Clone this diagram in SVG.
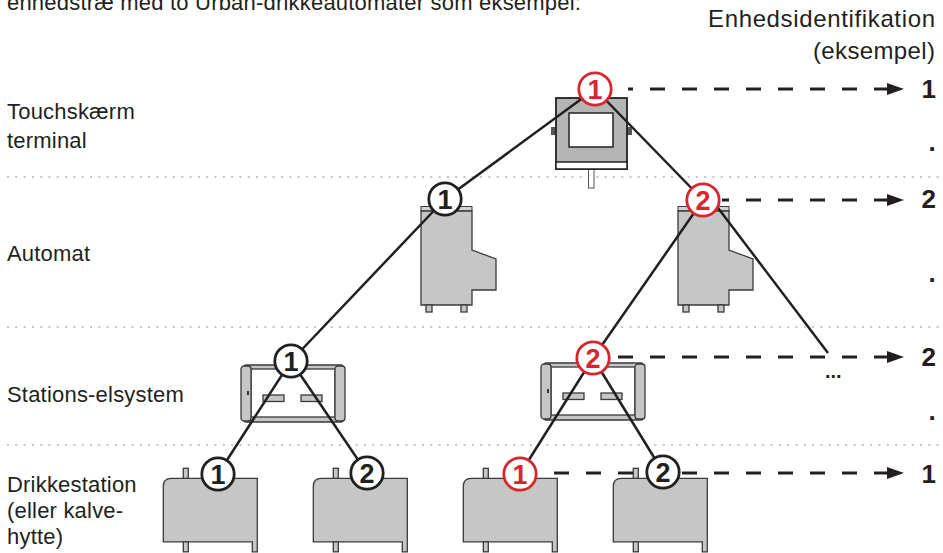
<svg xmlns="http://www.w3.org/2000/svg" width="943" height="553" viewBox="0 0 943 553">
<defs>
<style>
.lbl{font-family:"Liberation Sans",Arial,sans-serif;font-size:22px;fill:#231f20;letter-spacing:0.2px}
.rlbl{font-family:"Liberation Sans",Arial,sans-serif;font-size:24px;fill:#231f20}
.num{font-family:"Liberation Sans",Arial,sans-serif;font-size:26px;font-weight:bold;fill:#231f20}
.badge circle{fill:#fff;stroke:#231f20;stroke-width:2.8}
.badge text{font-family:"Liberation Sans",Arial,sans-serif;font-size:27px;font-weight:bold;fill:#231f20;text-anchor:middle}
.badge.red circle{stroke:#d7262e}
.badge.red text{fill:#d7262e}
.body{fill:#c6c6c6;stroke:#3a3a3a;stroke-width:1.3}
.sep{stroke:#c4c4c4;stroke-width:2;stroke-dasharray:2 6.3;fill:none}
.link{stroke:#231f20;stroke-width:2.5;fill:none}
.dash{stroke:#231f20;stroke-width:3;stroke-dasharray:15 17;fill:none}
</style>
<marker id="arr" markerUnits="userSpaceOnUse" viewBox="0 0 17 12" markerWidth="17" markerHeight="12" refX="2" refY="6" orient="auto-start-reverse">
<polygon points="0,0 17,6 0,12" fill="#231f20"/>
</marker>
<g id="automat-shape">
<rect x="0" y="0" width="51" height="4.5" fill="#d2d2d2" stroke="#3a3a3a" stroke-width="1"/>
<path class="body" d="M0,4.5 L51,4.5 L51,43.5 L75,52.5 L75,83.5 L51,83.5 L51,98.5 L0,98.5 Z"/>
<rect class="body" x="5" y="98.5" width="6" height="7"/>
<rect class="body" x="40" y="98.5" width="6" height="7"/>
</g>
<g id="station-shape">
<rect class="body" x="3" y="0" width="99" height="57" rx="2"/>
<rect x="10" y="4" width="84" height="48" fill="#fff" stroke="#3a3a3a" stroke-width="1.3"/>
<rect class="body" x="0" y="1" width="10" height="55" rx="3"/>
<rect class="body" x="94" y="1" width="10" height="55" rx="3"/>
<rect class="body" x="22" y="30" width="21" height="6.5"/>
<rect class="body" x="60" y="30" width="21" height="6.5"/>
<rect x="6" y="26" width="2" height="4" fill="#333"/>
</g>
<g id="drink-shape">
<path class="body" d="M0,18 Q0,10 8,10 L94,10 L94,83.5 L89,83.5 L89,73.5 L0,73.5 Z"/>
<rect class="body" x="20" y="0" width="5" height="10"/>
<rect class="body" x="20" y="73.5" width="5" height="10"/>
</g>
</defs>
<rect width="943" height="553" fill="#fff"/>

<g id="texts">
<text class="lbl" x="7" y="10">enhedstræ med to Urban-drikkeautomater som eksempel:</text>
<text class="rlbl" x="708" y="27" textLength="227" lengthAdjust="spacing">Enhedsidentifikation</text>
<text class="rlbl" x="813" y="59" textLength="122" lengthAdjust="spacing">(eksempel)</text>
<text class="lbl" x="7" y="119">Touchskærm</text>
<text class="lbl" x="7" y="148">terminal</text>
<text class="lbl" x="7" y="261">Automat</text>
<text class="lbl" x="7" y="402">Stations-elsystem</text>
<text class="lbl" x="7" y="492">Drikkestation</text>
<text class="lbl" x="7" y="518">(eller kalve-</text>
<text class="lbl" x="7" y="544">hytte)</text>
<text class="num" x="936" y="98" text-anchor="end">1</text>
<text class="num" x="932" y="151" text-anchor="middle">.</text>
<text class="num" x="936" y="208" text-anchor="end">2</text>
<text class="num" x="932" y="282" text-anchor="middle">.</text>
<text class="num" x="936" y="366" text-anchor="end">2</text>
<text class="num" x="932" y="420" text-anchor="middle">.</text>
<text class="num" x="936" y="483" text-anchor="end">1</text>
<text class="num" x="825" y="378" style="font-size:20px">...</text>
</g>

<g id="separators">
<line class="sep" x1="7" y1="177" x2="940" y2="177"/>
<line class="sep" x1="7" y1="327" x2="940" y2="327"/>
<line class="sep" x1="7" y1="445" x2="940" y2="445"/>
</g>

<g id="node-terminal">
<rect x="588.5" y="168" width="5.5" height="20" fill="#fff" stroke="#555" stroke-width="1"/>
<rect x="551" y="127" width="5" height="8" fill="#555"/>
<rect x="627" y="127" width="5" height="8" fill="#555"/>
<rect x="556" y="98" width="71" height="71" fill="#b5b5b5" stroke="#222" stroke-width="1.8"/>
<rect x="556" y="162" width="71" height="7" fill="#fff" stroke="#222" stroke-width="1.5"/>
<rect x="569" y="113" width="44" height="34" fill="#fff" stroke="#222" stroke-width="1.5"/>
</g>
<g id="node-automat-1"><use href="#automat-shape" x="421" y="206.5"/></g>
<g id="node-automat-2"><use href="#automat-shape" x="678" y="206.5"/></g>
<g id="node-station-1"><use href="#station-shape" x="241" y="365"/></g>
<g id="node-station-2"><use href="#station-shape" x="541" y="363"/></g>
<g id="node-drink-1"><use href="#drink-shape" x="163.3" y="468.3"/></g>
<g id="node-drink-2"><use href="#drink-shape" x="313.3" y="468.3"/></g>
<g id="node-drink-3"><use href="#drink-shape" x="463.3" y="468.3"/></g>
<g id="node-drink-4"><use href="#drink-shape" x="613.3" y="468.3"/></g>

<g id="connectors">
<line class="link" x1="595" y1="89" x2="445" y2="199"/>
<line class="link" x1="595" y1="89" x2="703" y2="200"/>
<line class="link" x1="445" y1="199" x2="291" y2="361"/>
<line class="link" x1="703" y1="200" x2="593" y2="358"/>
<line class="link" x1="712" y1="200" x2="828" y2="353"/>
<line class="link" x1="291" y1="361" x2="218" y2="474"/>
<line class="link" x1="291" y1="361" x2="367" y2="473"/>
<line class="link" x1="593" y1="358" x2="520" y2="474"/>
<line class="link" x1="593" y1="358" x2="663" y2="472"/>
<path class="dash" d="M889,89 L628,89" marker-start="url(#arr)"/>
<path class="dash" d="M889,200 L722,200" marker-start="url(#arr)"/>
<path class="dash" d="M889,357 L612,357" marker-start="url(#arr)"/>
<path class="dash" d="M889,473 L538,473" marker-start="url(#arr)"/>
</g>

<g id="badges">
<g id="badge-terminal" class="badge red"><circle cx="595" cy="89" r="16.2"/><text x="595" y="98.5">1</text></g>
<g id="badge-automat-1" class="badge"><circle cx="445" cy="199" r="16.2"/><text x="445" y="208.5">1</text></g>
<g id="badge-automat-2" class="badge red"><circle cx="703" cy="200" r="16.2"/><text x="703" y="209.5">2</text></g>
<g id="badge-station-1" class="badge"><circle cx="291" cy="361" r="16.2"/><text x="291" y="370.5">1</text></g>
<g id="badge-station-2" class="badge red"><circle cx="593" cy="358" r="16.2"/><text x="593" y="367.5">2</text></g>
<g id="badge-drink-1" class="badge"><circle cx="218" cy="474" r="16.2"/><text x="218" y="483.5">1</text></g>
<g id="badge-drink-2" class="badge"><circle cx="367" cy="473" r="16.2"/><text x="367" y="482.5">2</text></g>
<g id="badge-drink-3" class="badge red"><circle cx="520" cy="474" r="16.2"/><text x="520" y="483.5">1</text></g>
<g id="badge-drink-4" class="badge"><circle cx="663" cy="472" r="16.2"/><text x="663" y="481.5">2</text></g>
</g>
</svg>
